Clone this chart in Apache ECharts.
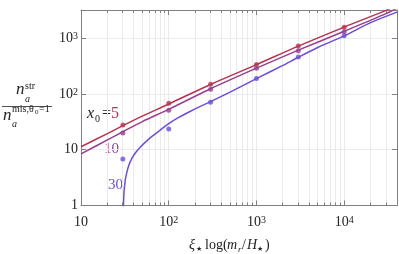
<!DOCTYPE html>
<html><head><meta charset="utf-8">
<script src="https://cdn.jsdelivr.net/npm/echarts@6/dist/echarts.min.js"></script>
<style>html,body{margin:0;padding:0;background:#fff}#c{width:399px;height:254px}</style>
</head><body><div id="c"></div>
<script>
// ---- data ----
const xTickValues = [10, 100, 1000, 10000];
const yTickValues = [1, 10, 100, 1000];
const pointX = [30, 100, 300, 1000, 3000, 10000];
const pts5  = [27.7, 68, 150, 339, 722, 1563];
const pts10 = [19.9, 50.8, 121, 288, 594, 1303];
const pts30 = [6.8, 23.5, 70.7, 190, 459, 1105];
const line5X  = [10, 20, 30, 50, 100, 300, 1000, 3000, 10000, 30000, 40000];
const line5Y  = [11.3, 19.5, 27, 40, 66, 148, 335, 720, 1580, 3150, 3900];
const line10X = [10, 20, 30, 50, 100, 300, 1000, 3000, 10000, 30000, 40000];
const line10Y = [8.4, 15, 21, 32, 53, 124, 290, 610, 1330, 2750, 3450];
const line30X = [30.02, 30.2, 30.5, 31, 32, 33, 35, 38, 42, 47, 55, 65, 80, 100, 130, 170, 220, 300, 500, 1000, 2000, 3000, 5000, 10000, 20000, 40000];
const line30Y = [0.3, 0.7, 1.1, 1.8, 2.9, 3.7, 5.2, 7.0, 8.9, 11.0, 14.0, 17.5, 22.5, 29.5, 38, 47.5, 58, 73, 108, 188, 325, 455, 680, 1100, 1900, 2937];
const seriesNames = ['5', '10', '30'];

const C5 = '#b3344f', C10 = '#973f8e', C30 = '#6b4fd8';
const XMIN = 10, XMAX = 40000, YMIN = 1, YMAX = 3200;
const FONT = '"Liberation Serif", "DejaVu Serif", serif';
const GRID_C = '#ebebeb', FRAME_C = '#808080';

function zip(a, b) { return a.map((v, i) => [v, b[i]]); }
function minorVals(lo, hi) {
  const out = [];
  for (let e = Math.floor(Math.log10(lo)); e <= Math.ceil(Math.log10(hi)); e++) {
    for (let m = 2; m <= 9; m++) { const v = m * Math.pow(10, e); if (v > lo && v < hi) out.push(v); }
  }
  return out;
}
const xMinor = minorVals(XMIN, XMAX);
const yMinor = minorVals(YMIN, YMAX);

function tickLabel(v) {
  const e = Math.round(Math.log10(v));
  if (e === 0) return '1';
  if (e === 1) return '10';
  return '10{s|' + e + '}';
}
const labelRich = { s: { fontFamily: FONT, fontSize: 10, verticalAlign: 'top', lineHeight: 10, color: '#222', padding: [0, 0, 6, 0] } };

const chart = echarts.init(document.getElementById('c'), null, { renderer: 'canvas' });

function crisp(p) { return Math.round(p - 0.5) + 0.5; }
function gridRender(dir) {
  return function (params, api) {
    const cs = params.coordSys;
    const v = api.value(0);
    const ch = [];
    if (dir === 'x') {
      const x = crisp(api.coord([v, YMIN])[0]);
      ch.push({ type: 'line', shape: { x1: x, y1: cs.y, x2: x, y2: cs.y + cs.height }, style: { stroke: GRID_C, lineWidth: 1 } });
      ch.push({ type: 'line', shape: { x1: x, y1: cs.y + cs.height, x2: x, y2: cs.y + cs.height - 3 }, style: { stroke: FRAME_C, lineWidth: 1 } });
      ch.push({ type: 'line', shape: { x1: x, y1: cs.y, x2: x, y2: cs.y + 3 }, style: { stroke: FRAME_C, lineWidth: 1 } });
    } else {
      const y = crisp(api.coord([XMIN, v])[1]);
      ch.push({ type: 'line', shape: { x1: cs.x, y1: y, x2: cs.x + cs.width, y2: y }, style: { stroke: GRID_C, lineWidth: 1 } });
      ch.push({ type: 'line', shape: { x1: cs.x, y1: y, x2: cs.x + 3, y2: y }, style: { stroke: FRAME_C, lineWidth: 1 } });
      ch.push({ type: 'line', shape: { x1: cs.x + cs.width, y1: y, x2: cs.x + cs.width - 3, y2: y }, style: { stroke: FRAME_C, lineWidth: 1 } });
    }
    return { type: 'group', children: ch };
  };
}

const axisCommon = {
  type: 'log', logBase: 10,
  axisLine: { show: true, onZero: false, lineStyle: { color: FRAME_C, width: 1 } },
  axisTick: { show: true, inside: true, length: 5, lineStyle: { color: FRAME_C } },
  splitLine: { show: true, lineStyle: { color: GRID_C, width: 1 } },
  minorTick: { show: false }, minorSplitLine: { show: false }
};

const option = {
  animation: false,
  backgroundColor: '#fff',
  grid: { left: 81, right: 2, top: 10, bottom: 48.5, containLabel: false },
  xAxis: [
    Object.assign({}, axisCommon, {
      min: XMIN, max: XMAX, position: 'bottom',
      axisLabel: { show: true, margin: 10, fontFamily: FONT, fontSize: 14, color: '#222', formatter: tickLabel, rich: labelRich,
        customValues: xTickValues },
      axisTick: Object.assign({}, axisCommon.axisTick, { customValues: xTickValues })
    }),
    Object.assign({}, axisCommon, {
      min: XMIN, max: XMAX, position: 'top', axisLabel: { show: false }, splitLine: { show: false }
    })
  ],
  yAxis: [
    Object.assign({}, axisCommon, {
      min: YMIN, max: YMAX, position: 'left',
      axisLabel: { show: true, margin: 3, fontFamily: FONT, fontSize: 14, color: '#222', formatter: tickLabel, rich: labelRich,
        customValues: yTickValues },
      axisTick: Object.assign({}, axisCommon.axisTick, { customValues: yTickValues })
    }),
    Object.assign({}, axisCommon, {
      min: YMIN, max: YMAX, position: 'right', axisLabel: { show: false }, splitLine: { show: false }
    })
  ],
  series: [
    { type: 'custom', name: 'xg', renderItem: gridRender('x'), data: xMinor.map(v => [v, YMIN]), z: 0, silent: true, clip: true },
    { type: 'custom', name: 'yg', renderItem: gridRender('y'), data: yMinor.map(v => [XMIN, v]), z: 0, silent: true, clip: true },
    { type: 'line', name: seriesNames[0], data: zip(line5X, line5Y), smooth: 0.3, showSymbol: false, clip: true, lineStyle: { color: C5, width: 1.5 }, z: 3 },
    { type: 'line', name: seriesNames[1], data: zip(line10X, line10Y), smooth: 0.3, showSymbol: false, clip: true, lineStyle: { color: C10, width: 1.5 }, z: 3 },
    { type: 'line', name: seriesNames[2], data: zip(line30X, line30Y), smooth: 0.3, showSymbol: false, clip: true, lineStyle: { color: C30, width: 1.5 }, z: 3 },
    { type: 'scatter', data: zip(pointX, pts5), symbolSize: 5, itemStyle: { color: C5 }, z: 4 },
    { type: 'scatter', data: zip(pointX, pts10), symbolSize: 5, itemStyle: { color: C10 }, z: 4 },
    { type: 'scatter', data: zip(pointX, pts30), symbolSize: 5, itemStyle: { color: C30 }, z: 4 }
  ],
  graphic: [
    // series labels
    { type: 'text', left: 87, top: 106, style: { text: 'x', font: 'italic 16px ' + FONT, fill: '#222' } },
    { type: 'text', left: 95, top: 114, style: { text: '0', font: '10px ' + FONT, fill: '#222' } },
    { type: 'text', left: 102, top: 106, style: { text: '=', font: '16px ' + FONT, fill: '#222' } },
    { type: 'text', left: 111, top: 106, style: { text: '5', font: '16px ' + FONT, fill: C5 } },
    { type: 'text', left: 104, top: 142, style: { text: '10', font: '15px ' + FONT, fill: C10 } },
    { type: 'text', left: 108, top: 178, style: { text: '30', font: '15px ' + FONT, fill: C30 } },
    // x axis name
    { type: 'text', left: 189, top: 238, style: { text: 'ξ', font: 'italic 14px ' + FONT, fill: '#222' } },
    { type: 'text', left: 196, top: 246, style: { text: '★', font: '7px "DejaVu Sans"', fill: '#222' } },
    { type: 'text', left: 205, top: 238, style: { text: 'log(', font: '14px ' + FONT, fill: '#222' } },
    { type: 'text', left: 227, top: 238, style: { text: 'm', font: 'italic 14px ' + FONT, fill: '#222' } },
    { type: 'text', left: 238, top: 245, style: { text: 'r', font: 'italic 9px ' + FONT, fill: '#222' } },
    { type: 'text', left: 242, top: 238, style: { text: '/', font: '14px ' + FONT, fill: '#222' } },
    { type: 'text', left: 247, top: 238, style: { text: 'H', font: 'italic 14px ' + FONT, fill: '#222' } },
    { type: 'text', left: 257, top: 246, style: { text: '★', font: '7px "DejaVu Sans"', fill: '#222' } },
    { type: 'text', left: 265, top: 238, style: { text: ')', font: '14px ' + FONT, fill: '#222' } },
    // y axis name (fraction)
    { type: 'text', left: 16, top: 81, style: { text: 'n', font: 'italic 17px ' + FONT, fill: '#222' } },
    { type: 'text', left: 25, top: 81, style: { text: 'str', font: '10px ' + FONT, fill: '#222' } },
    { type: 'text', left: 25, top: 94, style: { text: 'a', font: 'italic 10px ' + FONT, fill: '#222' } },
    { type: 'line', shape: { x1: 2, y1: 106.5, x2: 52, y2: 106.5 }, style: { stroke: '#222', lineWidth: 0.8 } },
    { type: 'text', left: 3, top: 107, style: { text: 'n', font: 'italic 17px ' + FONT, fill: '#222' } },
    { type: 'text', left: 12, top: 104, style: { text: 'mis,θ', font: '10px ' + FONT, fill: '#222' } },
    { type: 'text', left: 35, top: 109, style: { text: '0', font: '7px ' + FONT, fill: '#222' } },
    { type: 'text', left: 39, top: 104, style: { text: '=1', font: '10px ' + FONT, fill: '#222' } },
    { type: 'text', left: 12, top: 119, style: { text: 'a', font: 'italic 10px ' + FONT, fill: '#222' } }
  ]
};
chart.setOption(option);
</script></body></html>
